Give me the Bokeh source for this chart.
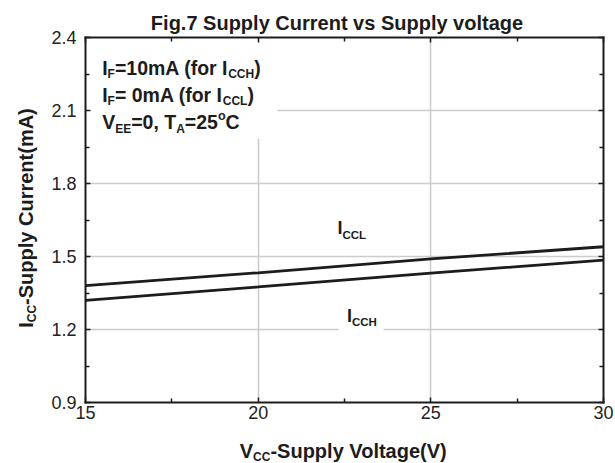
import math
from bokeh.plotting import figure
from bokeh.models import (Label, BoxAnnotation, LinearAxis, Grid, FixedTicker,
                          Range1d, CustomJSTickFormatter)
from bokeh.embed import file_html
from bokeh.resources import INLINE

# ---------------- data ----------------
vcc = [15, 20, 25, 30]
icc_l = [1.38, 1.433, 1.49, 1.54]
icc_h = [1.32, 1.375, 1.432, 1.485]
x_ticks = [15, 20, 25, 30]
x_minor = [17.5, 22.5, 27.5]
y_ticks = [0.9, 1.2, 1.5, 1.8, 2.1, 2.4]
y_minor = [1.05, 1.35, 1.65, 1.95, 2.25]
x_grid = [20, 25]
y_grid = [1.2, 1.5, 1.8, 2.1]

title_text = "Fig.7 Supply Current vs Supply voltage"
xlabel_pieces = [("V", "main"), ("CC", "sub"), ("-Supply Voltage(V)", "main")]
ylabel_pieces = [("I", "main"), ("CC", "sub"), ("-Supply Current(mA)", "main")]
note_lines = [
    [("I", "main"), ("F", "sub"), ("=10mA (for I", "main"), ("CCH", "sub"), (")", "main")],
    [("I", "main"), ("F", "sub"), ("= 0mA (for I", "main"), ("CCL", "sub"), (")", "main")],
    [("V", "main"), ("EE", "sub"), ("=0, T", "main"), ("A", "sub"), ("=25", "main"),
     ("o", "sup"), ("C", "main")],
]
ccl_pieces = [("I", "main"), ("CCL", "sub")]
cch_pieces = [("I", "main"), ("CCH", "sub")]

# ---------------- layout / styling ----------------
FONT = "Liberation Sans"
INK = "#1c1c1c"
W_PX, H_PX = 615, 463
PX_L, PX_R, PY_T, PY_B = 85, 603, 37, 402   # plot box on the page

x0, x1 = x_ticks[0], x_ticks[-1]
y0, y1 = y_ticks[0], y_ticks[-1]
kx = (x1 - x0) / (PX_R - PX_L)
ky = (y1 - y0) / (PY_B - PY_T)
x_range = Range1d(x0 - PX_L * kx, x0 + (W_PX - PX_L) * kx)
y_range = Range1d(y0 - (H_PX - PY_B) * ky, y0 + PY_B * ky)


def sx(X):
    return X


def sy(Y):
    return H_PX - Y


# Arial/Liberation Sans Bold advance widths (per 1000 em)
W = {" ": 278, "(": 333, ")": 333, ",": 278, "-": 333, ".": 278, "=": 584,
     "A": 722, "C": 722, "E": 667, "F": 611, "H": 722, "I": 278, "L": 611,
     "S": 667, "T": 611, "V": 667, "a": 556, "e": 556, "f": 333, "g": 611,
     "i": 278, "l": 278, "m": 889, "n": 611, "o": 611, "p": 611, "r": 389,
     "s": 556, "t": 333, "u": 611, "v": 556, "y": 556}


def tw(s, size):
    return sum(W.get(c, 556) for c in s) * size / 1000.0


p = figure(width=W_PX, height=H_PX, x_range=x_range, y_range=y_range,
           x_axis_type=None, y_axis_type=None, min_border=0,
           output_backend="svg", toolbar_location=None)
p.background_fill_color = "white"
p.border_fill_color = "white"
p.outline_line_color = None

# grid (limited to the plot box)
xg = Grid(dimension=0, ticker=FixedTicker(ticks=x_grid), cross_bounds=(y0, y1))
yg = Grid(dimension=1, ticker=FixedTicker(ticks=y_grid), cross_bounds=(x0, x1))
for g in (xg, yg):
    g.grid_line_color = "#cccccc"
    g.grid_line_width = 1.6
    p.add_layout(g)


def make_axis(loc, bounds, ticks, minor, labels, standoff=5):
    ax = LinearAxis(fixed_location=loc, bounds=bounds,
                    ticker=FixedTicker(ticks=ticks, minor_ticks=minor))
    ax.axis_line_color = INK
    ax.axis_line_width = 2
    ax.axis_line_cap = "square"
    ax.major_tick_in = 5
    ax.major_tick_out = 0
    ax.minor_tick_in = 4
    ax.minor_tick_out = 0
    ax.major_tick_line_color = INK
    ax.minor_tick_line_color = INK
    ax.major_tick_line_width = 1.5
    ax.minor_tick_line_width = 1.5
    if labels:
        ax.major_label_text_font = FONT
        ax.major_label_text_font_size = "18px"
        ax.major_label_text_color = "#222222"
        ax.major_label_standoff = standoff
    else:
        ax.formatter = CustomJSTickFormatter(code="return ''")
        ax.major_label_text_font_size = "0px"
        ax.major_label_standoff = 0
    return ax


p.add_layout(make_axis(y0, (x0, x1), x_ticks, x_minor, True, 3), "below")
p.add_layout(make_axis(x0, (y0, y1), y_ticks, y_minor, True, 9), "left")
p.add_layout(make_axis(y1, (x0, x1), x_ticks, x_minor, False), "above")
p.add_layout(make_axis(x1, (y0, y1), y_ticks, y_minor, False), "right")


def white_box(L, R, T, B):
    return BoxAnnotation(left=sx(L), right=sx(R), top=sy(T), bottom=sy(B),
                         left_units="screen", right_units="screen",
                         top_units="screen", bottom_units="screen",
                         fill_color="white", fill_alpha=1.0, line_color=None,
                         level="underlay")


# white patches behind texts (they interrupt the grid in the reference)
p.add_layout(white_box(86, 277, 40, 138))
p.add_layout(white_box(338, 383, 300, 333))

# curves
p.line(vcc, icc_l, line_color=INK, line_width=2.8)
p.line(vcc, icc_h, line_color=INK, line_width=2.8)


def make_label(text, X, Y, size, align="left", angle=0.0):
    return Label(x=sx(X), y=sy(Y), x_units="screen", y_units="screen",
                 text=text, text_font=FONT, text_font_style="bold",
                 text_font_size=f"{size}px", text_color=INK,
                 text_align=align, text_baseline="alphabetic", angle=angle)


def compose(pieces, X, Y, main, sub, drop, align="left", angle=0.0,
            sup=None, rise=0.0):
    sup = sup or sub
    sizes = {"main": main, "sub": sub, "sup": sup}
    total = sum(tw(t, sizes[r]) for t, r in pieces)
    pos = -total / 2.0 if align == "center" else 0.0
    for text, role in pieces:
        size = sizes[role]
        shift = drop if role == "sub" else (-rise if role == "sup" else 0.0)
        if angle == 0.0:
            lab = make_label(text, X + pos, Y + shift, size)
        else:
            lab = make_label(text, X + shift, Y - pos, size, angle=angle)
        p.add_layout(lab)
        pos += tw(text, size)


# title
p.add_layout(make_label(title_text, 336.5, 22.3, 20, align="center"))

# note block
for line, base in zip(note_lines, [67, 94, 121.5]):
    compose(line, 101.7, base, 19.5, 12, 6.5, sup=12.5, rise=6)

# curve labels
compose(ccl_pieces, 337, 227.3, 18, 11.5, 7.5)
compose(cch_pieces, 346.5, 315, 18, 11.5, 6.5)

# axis labels
compose(xlabel_pieces, 343.5, 450, 20, 12, 6.5, align="center")
compose(ylabel_pieces, 25, 217.5, 20, 12, 6.5, align="center",
        angle=math.pi / 2)

open("out.html", "w").write(file_html(p, INLINE))
